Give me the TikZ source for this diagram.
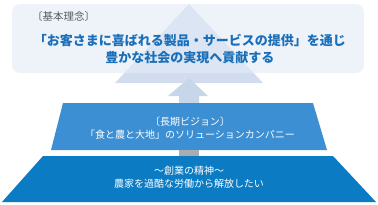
\documentclass[tikz,border=0pt]{standalone}
\usepackage{fontspec}
\newfontfamily\jp{Noto Sans CJK JP}
\usepackage{xcolor}
\definecolor{boxfill}{HTML}{E3EBF7}
\definecolor{tri}{HTML}{D1DDEF}
\definecolor{arrowc}{HTML}{C8D6EA}
\definecolor{midblue}{HTML}{3D8FD4}
\definecolor{lowblue}{HTML}{0B7BC4}
\definecolor{joint}{HTML}{A9ADB2}
\definecolor{ink}{HTML}{1A6FB8}
\definecolor{mute}{HTML}{555B62}
\usetikzlibrary{positioning,calc}
\tikzset{
  lab/.style={font=\jp\fontsize{10.5}{12}\selectfont,text=mute,inner sep=0pt},
  mission/.style={font=\jp\bfseries\fontsize{13}{17}\selectfont,text=ink,align=center,inner sep=0pt},
  wtxt/.style={font=\jp\fontsize{10}{13}\selectfont,text=white,align=center,inner sep=0pt},
}

\begin{document}
\begin{tikzpicture}[x=1pt,y={(0pt,-1pt)}]
\useasboundingbox (0,0) rectangle (378,204);
% pyramid tip behind the top box
\fill[tri] (189,4) -- (263,83) -- (115,83) -- cycle;
\fill[boxfill,fill opacity=0.6,rounded corners=8pt] (12,4) rectangle (364,73);
% arrow up
\fill[arrowc] (189,78) -- (208,96) -- (199,96) -- (199,103) -- (179,103) -- (179,96) -- (168,96) -- cycle;
% two layers
\fill[midblue] (63,103) -- (313,103) -- (327,150) -- (51,150) -- cycle;
\fill[joint] (179,150) rectangle (199,156);
\fill[lowblue] (43,156) -- (333,156) -- (376,202) -- (2,202) -- cycle;
% texts
\node[lab,anchor=west] (rinen) at (32,17) {〔基本理念〕};
\node[mission] (rinentxt) at (190,48.5) {「お客さまに喜ばれる製品・サービスの提供」を通じ\\豊かな社会の実現へ貢献する};
\node[wtxt] (vision) at (190,128) {〔長期ビジョン〕\\「食と農と大地」のソリューションカンパニー};
\node[wtxt] (spirit) at (189,177.5) {〜創業の精神〜\\農家を過酷な労働から解放したい};
\end{tikzpicture}
\end{document}
